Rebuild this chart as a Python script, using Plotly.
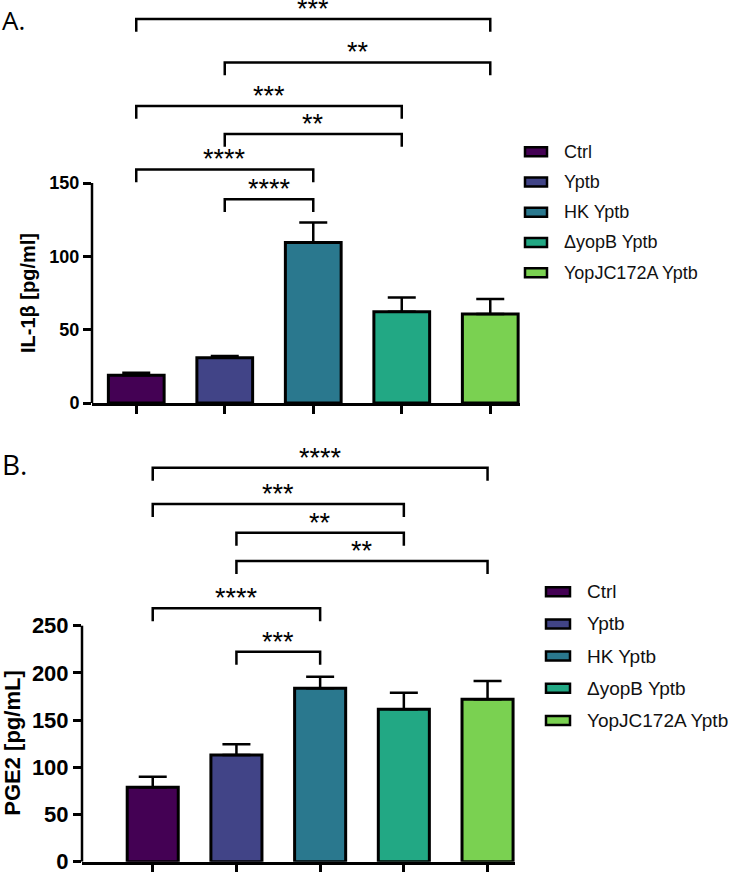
import plotly.graph_objects as go

W, H = 733, 872

categories = ["Ctrl", "Yptb", "HK Yptb", "ΔyopB Yptb", "YopJC172A Yptb"]
colors = ["#440154", "#414487", "#2a788e", "#22a884", "#7ad151"]

il1b_mean = [19.0, 30.9, 109.5, 62.3, 60.7]
il1b_sem = [1.6, 1.1, 13.5, 9.7, 10.3]
pge2_mean = [78.8, 113.0, 183.7, 161.4, 172.0]
pge2_sem = [11.2, 11.3, 12.3, 17.6, 19.4]

il1b_ticks = [0, 50, 100, 150]
pge2_ticks = [0, 50, 100, 150, 200, 250]

# (group a, group b, bracket height, label)
il1b_sig = [(0, 4, 261.8, "***"), (1, 4, 232.2, "**"), (0, 3, 202.5, "***"),
            (1, 3, 183.4, "**"), (0, 2, 159.3, "****"), (1, 2, 138.9, "****")]
pge2_sig = [(0, 4, 417.4, "****"), (0, 3, 378.9, "***"), (1, 3, 348.5, "**"),
            (1, 4, 318.5, "**"), (0, 2, 268.4, "****"), (1, 2, 222.5, "***")]

FONT = "Liberation Sans, Arial, sans-serif"


def px(x):
    return x / W


def py(y):
    return 1 - y / H


panels = [
    dict(mean=il1b_mean, sem=il1b_sem, ticks=il1b_ticks, sig=il1b_sig,
         title="IL-1β [pg/ml]", xd=[92, 520], xr=[-0.5, 4.336], yd=[403, 0], yr=[0, 274.8],
         bw=0.63, drop=8.7, tickfont=18, titlefont=20, title_x=28, label="A.", label_y=0,
         label_size=26, leg_x=525, leg_y=151.7, leg_step=30.25, leg_w=22, leg_h=9, leg_font=18,
         leg_tx=562, cap=14),
    dict(mean=pge2_mean, sem=pge2_sem, ticks=pge2_ticks, sig=pge2_sig,
         title="PGE2 [pg/mL]", xd=[82, 515], xr=[-0.845, 4.328], yd=[861.7, 440], yr=[0, 446.7],
         bw=0.61, drop=13.8, tickfont=22, titlefont=22, title_x=13, label="B.", label_y=443,
         label_size=28, leg_x=546, leg_y=591.7, leg_step=32.2, leg_w=24, leg_h=9, leg_font=19,
         leg_tx=585, cap=14),
]

fig = go.Figure()
shapes = []
annotations = []

for p_i, p in enumerate(panels):
    sfx = "" if p_i == 0 else str(p_i + 1)
    xa, ya = "x" + sfx, "y" + sfx
    for k, cat in enumerate(categories):
        fig.add_trace(go.Bar(
            x=[cat], y=[p["mean"][k]], width=[p["bw"]],
            marker=dict(color=colors[k], line=dict(color="black", width=3)),
            error_y=dict(type="data", symmetric=False, array=[p["sem"][k]], arrayminus=[0],
                         color="black", thickness=2.5, width=p["cap"]),
            xaxis=xa, yaxis=ya, showlegend=False, hoverinfo="skip"))
    for a, b, h, lab in p["sig"]:
        fig.add_trace(go.Scatter(
            x=[categories[a], categories[a], categories[b], categories[b]],
            y=[h - p["drop"], h, h, h - p["drop"]], mode="lines",
            line=dict(color="black", width=2.5), xaxis=xa, yaxis=ya,
            showlegend=False, hoverinfo="skip"))
        annotations.append(dict(x=(a + b) / 2, y=h, xref=xa, yref=ya, text=lab, showarrow=False,
                                yanchor="middle", yshift=10,
                                font=dict(family=FONT, size=27, color="black")))
    lay_x = "xaxis" + sfx
    lay_y = "yaxis" + sfx
    fig.layout[lay_x] = dict(domain=[px(p["xd"][0]), px(p["xd"][1])], range=p["xr"],
                             anchor=ya, showline=True, linecolor="black", linewidth=2.5,
                             ticks="outside", ticklen=8, tickwidth=2.5, tickcolor="black",
                             showticklabels=False, showgrid=False, zeroline=False,
                             automargin=False,
                             categoryorder="array", categoryarray=categories)
    fig.layout[lay_y] = dict(domain=[py(p["yd"][0]), py(p["yd"][1])], range=p["yr"],
                             anchor=xa, showline=False, tickvals=p["ticks"],
                             ticks="outside", ticklen=8, tickwidth=2.5, tickcolor="black",
                             tickfont=dict(family=FONT, size=p["tickfont"], color="black",
                                           weight="bold"),
                             ticklabeloverflow="allow",
                             showgrid=False, zeroline=False, automargin=False)
    # y-axis line from 0 to top tick
    shapes.append(dict(type="line", xref="paper", yref=ya, x0=px(p["xd"][0]), x1=px(p["xd"][0]),
                       y0=p["ticks"][0], y1=p["ticks"][-1],
                       line=dict(color="black", width=2.5)))
    # axis title
    annotations.append(dict(x=px(p["title_x"]), y=p["ticks"][-1] / 2, xref="paper", yref=ya,
                            text=p["title"], textangle=-90, showarrow=False,
                            xanchor="center", yanchor="middle",
                            font=dict(family=FONT, size=p["titlefont"], color="black",
                                      weight="bold")))
    # panel label
    annotations.append(dict(x=0, y=py(p["label_y"]), xref="paper", yref="paper",
                            text=p["label"], showarrow=False, xanchor="left", yanchor="top",
                            font=dict(family="Open Sans, sans-serif", size=p["label_size"],
                                      color="black")))
    # legend
    for k, cat in enumerate(categories):
        cy = p["leg_y"] + k * p["leg_step"]
        shapes.append(dict(type="rect", xref="paper", yref="paper",
                           x0=px(p["leg_x"]), x1=px(p["leg_x"] + p["leg_w"]),
                           y0=py(cy - p["leg_h"] / 2), y1=py(cy + p["leg_h"] / 2),
                           fillcolor=colors[k], line=dict(color="black", width=2.5)))
        annotations.append(dict(x=px(p["leg_tx"]), y=py(cy), xref="paper", yref="paper",
                                text=cat, showarrow=False, xanchor="left", yanchor="middle",
                                font=dict(family=FONT, size=p["leg_font"], color="#111111")))

fig.update_layout(width=W, height=H, margin=dict(l=0, r=0, t=0, b=0, autoexpand=False),
                  template="none", barmode="overlay", showlegend=False,
                  plot_bgcolor="white", paper_bgcolor="white",
                  shapes=shapes, annotations=annotations)

fig.write_html(
    "out.html",
    config={"displayModeBar": False},
    post_script="document.body.style.margin='0';document.body.style.overflow='hidden';",
)
